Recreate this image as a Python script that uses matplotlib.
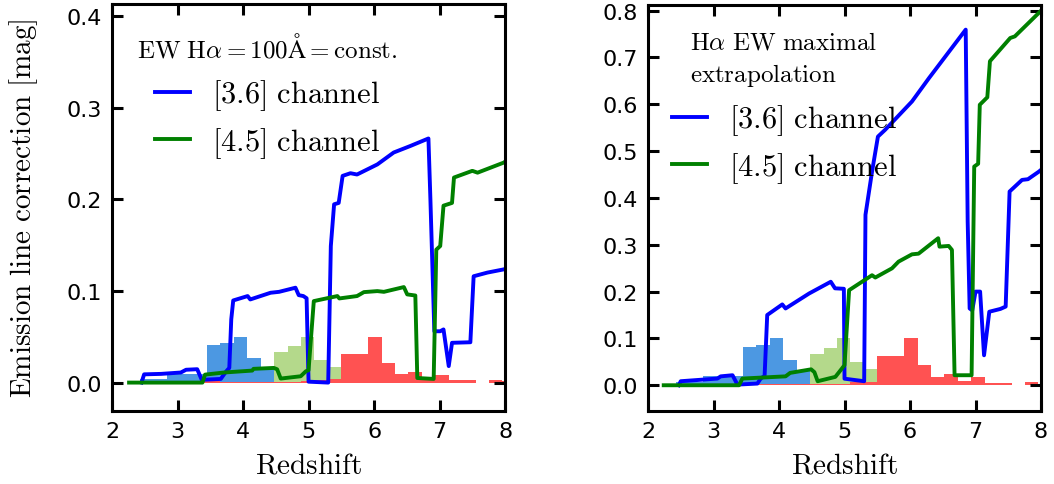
import numpy as np
import matplotlib
matplotlib.use("Agg")
import matplotlib.pyplot as plt

plt.rcParams["mathtext.fontset"] = "cm"
plt.rcParams["font.family"] = "DejaVu Sans"

# ---- emission-line correction curves -------------------------------------
# EW(Halpha) = 100 A constant
z_36_const = [2.45, 2.49, 2.75, 3.05, 3.13, 3.30, 3.37, 3.66, 3.74, 3.79, 3.82, 3.85,
              4.07, 4.11, 4.25, 4.42, 4.55, 4.80, 4.85, 4.92, 4.97, 5.00, 5.30, 5.34,
              5.39, 5.46, 5.52, 5.64, 5.74, 6.05, 6.30, 6.55, 6.83, 6.86, 6.92, 7.01,
              7.06, 7.14, 7.19, 7.47, 7.52, 7.73, 7.98, 8.00]
c_36_const = [0.0, 0.009, 0.0095, 0.011, 0.014, 0.0146, 0.003, 0.004, 0.012, 0.016, 0.069, 0.0896,
              0.0944, 0.0907, 0.094, 0.098, 0.099, 0.1035, 0.0954, 0.0944, 0.092, 0.001, 0.0, 0.149,
              0.1945, 0.196, 0.2255, 0.2284, 0.227, 0.238, 0.251, 0.258, 0.2663, 0.20, 0.056, 0.056,
              0.058, 0.018, 0.0434, 0.044, 0.116, 0.120, 0.1235, 0.124]

z_45_const = [2.26, 3.38, 3.42, 3.71, 4.14, 4.16, 4.47, 4.52, 4.575, 4.88, 4.96, 5.00,
              5.08, 5.44, 5.47, 5.74, 5.845, 6.05, 6.15, 6.455, 6.506, 6.63, 6.66, 6.91,
              6.95, 7.01, 7.06, 7.19, 7.22, 7.50, 7.58, 7.98, 8.00]
c_45_const = [0.0, 0.0, 0.0087, 0.011, 0.0131, 0.015, 0.016, 0.0145, 0.0044, 0.0069, 0.0124, 0.0135,
              0.0889, 0.0944, 0.0918, 0.0944, 0.0987, 0.0998, 0.099, 0.1042, 0.0962, 0.095, 0.005, 0.004,
              0.145, 0.149, 0.193, 0.196, 0.2237, 0.231, 0.229, 0.240, 0.241]

# maximal Halpha EW extrapolation
z_36_max = [2.47, 2.50, 3.06, 3.11, 3.29, 3.365, 3.67, 3.72, 3.78, 3.82, 4.05, 4.10,
            4.46, 4.79, 4.855, 4.99, 5.00, 5.30, 5.32, 5.42, 5.51, 5.62, 6.03, 6.29,
            6.85, 6.88, 6.91, 6.95, 7.00, 7.07, 7.13, 7.21, 7.38, 7.46, 7.52, 7.71,
            7.80, 7.965, 8.00]
c_36_max = [0.0, 0.0086, 0.0143, 0.019, 0.0214, 0.0014, 0.0036, 0.0143, 0.02, 0.150, 0.1726, 0.164,
            0.196, 0.221, 0.207, 0.206, 0.014, 0.0086, 0.364, 0.456, 0.531, 0.5455, 0.606, 0.656,
            0.7594, 0.35, 0.164, 0.16, 0.200, 0.200, 0.064, 0.157, 0.163, 0.168, 0.4137, 0.4385,
            0.44, 0.456, 0.46]

z_45_max = [2.24, 3.39, 3.44, 4.10, 4.17, 4.49, 4.54, 4.59, 4.86, 4.96, 5.00, 5.07,
            5.42, 5.47, 5.725, 5.825, 6.03, 6.13, 6.43, 6.45, 6.59, 6.64, 6.68, 6.94,
            6.98, 7.04, 7.065, 7.18, 7.22, 7.53, 7.60, 7.965, 8.00]
c_45_max = [0.0, 0.0, 0.0143, 0.019, 0.0264, 0.034, 0.028, 0.0086, 0.0179, 0.0357, 0.043, 0.203,
            0.235, 0.230, 0.2497, 0.264, 0.2796, 0.281, 0.314, 0.296, 0.2975, 0.289, 0.0214, 0.0214,
            0.467, 0.473, 0.599, 0.615, 0.692, 0.7416, 0.745, 0.795, 0.80]

# ---- redshift distributions of the three samples (normalised to peak = 1) --
z_bin_edges = np.linspace(2.425, 8.165, 29)
hist_blue = [0.07, 0.07, 0.19, 0.19, 0.19, 0.82, 0.86, 1.00, 0.54, 0.31, 0.0, 0.0, 0.0, 0.0,
             0.0, 0.0, 0.0, 0.0, 0.0, 0.0, 0.0, 0.0, 0.0, 0.0, 0.0, 0.0, 0.0, 0.0]
hist_green = [0.0, 0.0, 0.0, 0.0, 0.0, 0.0, 0.0, 0.0, 0.0, 0.0, 0.66, 0.80, 1.00, 0.50,
              0.34, 0.0, 0.0, 0.0, 0.0, 0.0, 0.0, 0.0, 0.0, 0.0, 0.0, 0.0, 0.0, 0.0]
hist_red = [0.0, 0.0, 0.0, 0.0, 0.03, 0.03, 0.02, 0.02, 0.02, 0.02, 0.02, 0.02, 0.03, 0.06,
            0.07, 0.62, 0.62, 1.00, 0.43, 0.18, 0.23, 0.10, 0.17, 0.05, 0.05, 0.0, 0.06, 0.03]

panels = [
    dict(z36=z_36_const, c36=c_36_const, z45=z_45_const, c45=c_45_const,
         ylim=(-0.031, 0.413), yticks=[0.0, 0.1, 0.2, 0.3, 0.4], hscale=0.05),
    dict(z36=z_36_max, c36=c_36_max, z45=z_45_max, c45=c_45_max,
         ylim=(-0.055, 0.812), yticks=[0.0, 0.1, 0.2, 0.3, 0.4, 0.5, 0.6, 0.7, 0.8], hscale=0.10),
]

fig = plt.figure(figsize=(10.54, 4.85), dpi=100)
ax_l = fig.add_axes([0.1063, 0.1505, 0.3729, 0.8392])
ax_r = fig.add_axes([0.6148, 0.1505, 0.3729, 0.8371])

for ax, p in zip([ax_l, ax_r], panels):
    left = z_bin_edges[:-1]
    width = np.diff(z_bin_edges)
    for h, col in [(hist_blue, "#4c98e2"), (hist_green, "#b4d98b"), (hist_red, "#ff5252")]:
        hv = np.array(h) * p["hscale"]
        ax.bar(left, hv, width=width, align="edge", color=col, linewidth=0, zorder=1)
    ax.plot(p["z36"], p["c36"], color="#0000ff", lw=2.8, zorder=3, label=r"$[3.6]\ \mathrm{channel}$")
    ax.plot(p["z45"], p["c45"], color="#008000", lw=2.8, zorder=3, label=r"$[4.5]\ \mathrm{channel}$")
    ax.set_xlim(2, 8)
    ax.set_ylim(*p["ylim"])
    ax.set_xticks([2, 3, 4, 5, 6, 7, 8])
    ax.set_yticks(p["yticks"])
    ax.yaxis.set_major_formatter(matplotlib.ticker.FormatStrFormatter("%.1f"))
    ax.tick_params(direction="in", length=8, width=2.2, labelsize=16, pad=7,
                   top=True, right=True)
    for s in ax.spines.values():
        s.set_linewidth(2.2)
        s.set_zorder(5)
    ax.set_xlabel(r"$\mathrm{Redshift}$", fontsize=21, labelpad=7)

ax_l.set_ylabel(r"$\mathrm{Emission\ line\ correction\ [mag]}$", fontsize=21, labelpad=19)

ax_l.text(0.064, 0.894, r"$\mathrm{EW\ H}\alpha=100\mathrm{\AA}=\mathrm{const.}$",
          transform=ax_l.transAxes, fontsize=18, ha="left", va="center")
ax_r.text(0.107, 0.909, r"$\mathrm{H}\alpha\ \mathrm{EW\ maximal}$",
          transform=ax_r.transAxes, fontsize=18, ha="left", va="center")
ax_r.text(0.107, 0.828, r"$\mathrm{extrapolation}$",
          transform=ax_r.transAxes, fontsize=18, ha="left", va="center")

leg_kw = dict(frameon=False, fontsize=22, handlelength=1.15, handletextpad=0.72,
              labelspacing=0.42, borderpad=0, borderaxespad=0, loc="upper left")
ax_l.legend(bbox_to_anchor=(0.109, 0.82), **leg_kw)
ax_r.legend(bbox_to_anchor=(0.061, 0.76), **leg_kw)

fig.savefig("out.png", dpi=100)
